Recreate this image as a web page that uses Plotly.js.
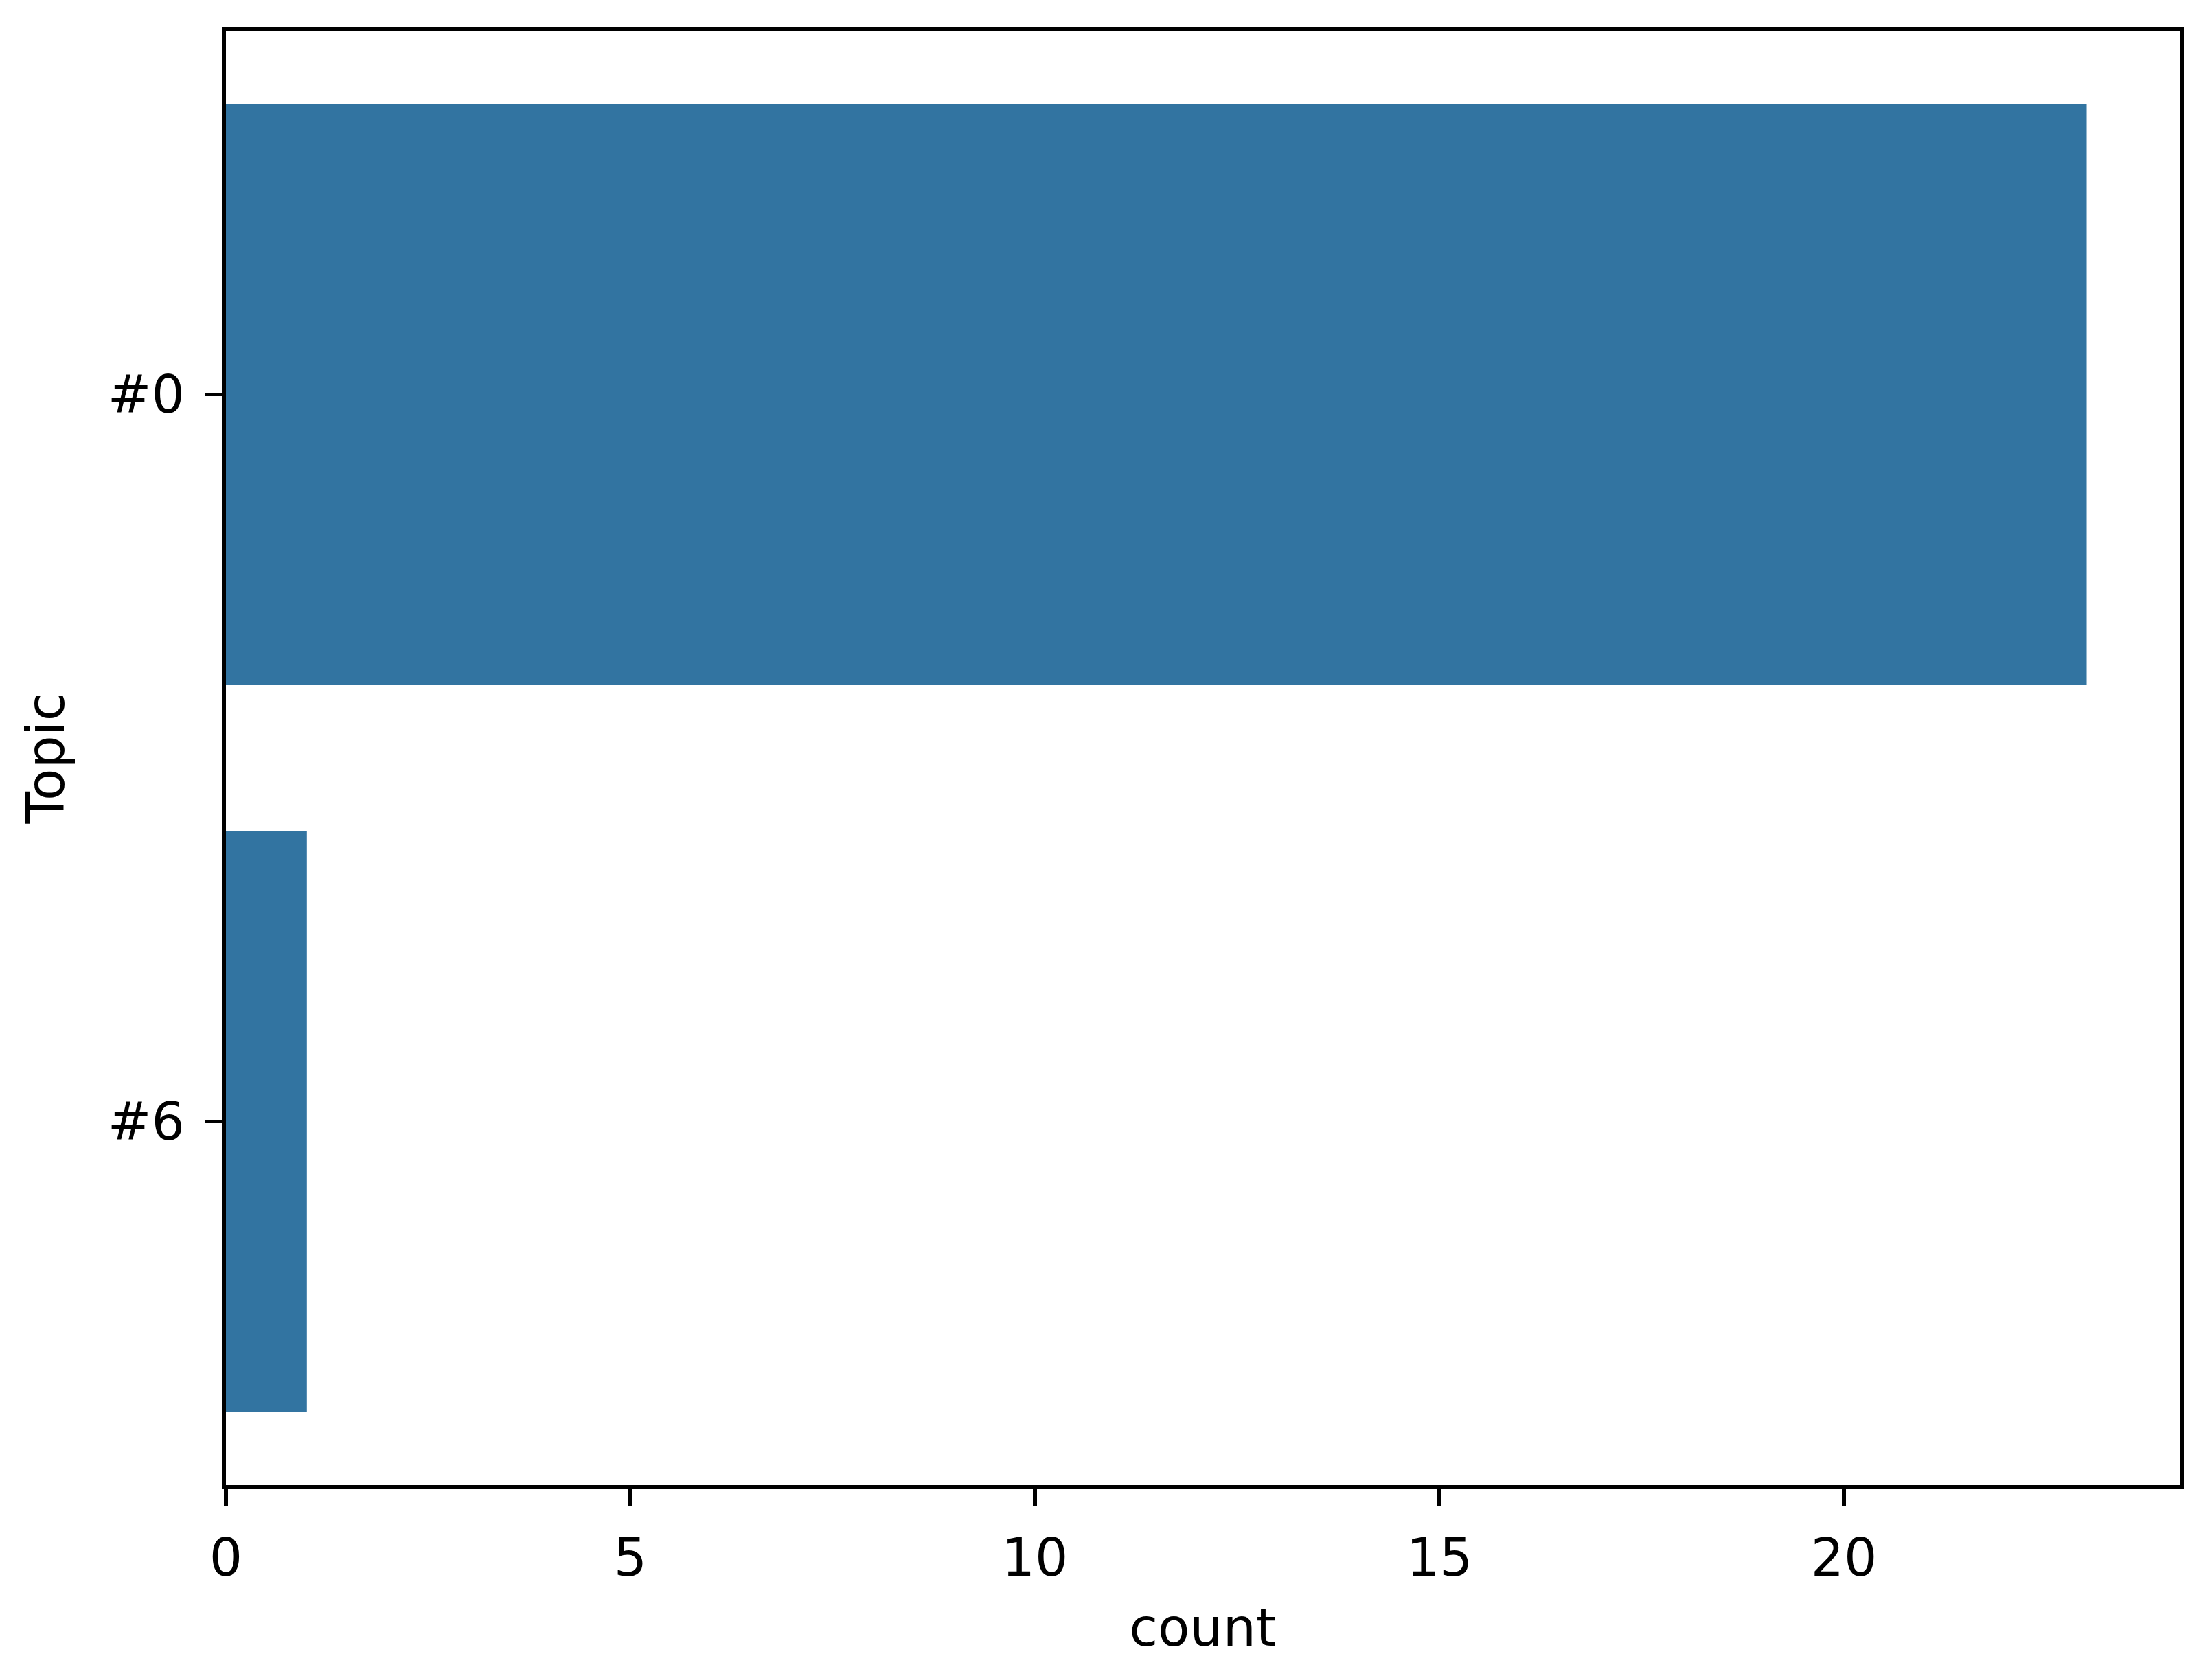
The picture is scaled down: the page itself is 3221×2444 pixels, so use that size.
<!DOCTYPE html>
<html>
<head>
<meta charset="utf-8">
<script src="https://cdn.plot.ly/plotly-3.0.1.min.js"></script>
<style>html,body{margin:0;padding:0;background:#fff;}#chart{width:3221px;height:2444px;}</style>
</head>
<body>
<div id="chart"></div>
<script>
const topics = ['#0', '#6'];
const counts = [23, 1];
const xTickValues = [0, 5, 10, 15, 20];
const xTickLabels = ['0', '5', '10', '15', '20'];
const xTitle = 'count';
const yTitle = 'Topic';

const FONT = 'DejaVu Sans, sans-serif';
const FS = 76;
const trace = {
  type: 'bar',
  orientation: 'h',
  x: counts,
  y: topics,
  width: 0.8,
  marker: {color: '#3274a1', line: {width: 0}},
  hoverinfo: 'skip'
};

const layout = {
  width: 3221,
  height: 2444,
  margin: {l: 329, r: 47, t: 45, b: 281, pad: 0},
  paper_bgcolor: '#ffffff',
  plot_bgcolor: '#ffffff',
  showlegend: false,
  font: {family: FONT, size: FS, color: '#000000'},
  xaxis: {
    range: [0, 24.15],
    tickvals: xTickValues,
    ticktext: xTickLabels,
    ticks: 'outside',
    ticklen: 25,
    tickwidth: 5.6,
    tickcolor: '#000000',
    showline: true,
    mirror: true,
    linecolor: '#000000',
    linewidth: 6,
    showgrid: false,
    zeroline: false,
    tickfont: {family: FONT, size: FS, color: '#000000'},
    ticklabelstandoff: 10,
    title: {text: xTitle, font: {family: FONT, size: FS, color: '#000000'}, standoff: 34}
  },
  yaxis: {
    type: 'category',
    categoryorder: 'array',
    categoryarray: topics,
    range: [1.5, -0.5],
    ticks: 'outside',
    ticklen: 25,
    tickwidth: 5.6,
    tickcolor: '#000000',
    showline: true,
    mirror: true,
    linecolor: '#000000',
    linewidth: 6,
    showgrid: false,
    zeroline: false,
    tickfont: {family: FONT, size: FS, color: '#000000'},
    ticklabelstandoff: 14,
    title: {text: yTitle, font: {family: FONT, size: FS, color: '#000000'}, standoff: 40}
  }
};

Plotly.newPlot('chart', [trace], layout, {staticPlot: true, displayModeBar: false});
</script>
</body>
</html>
